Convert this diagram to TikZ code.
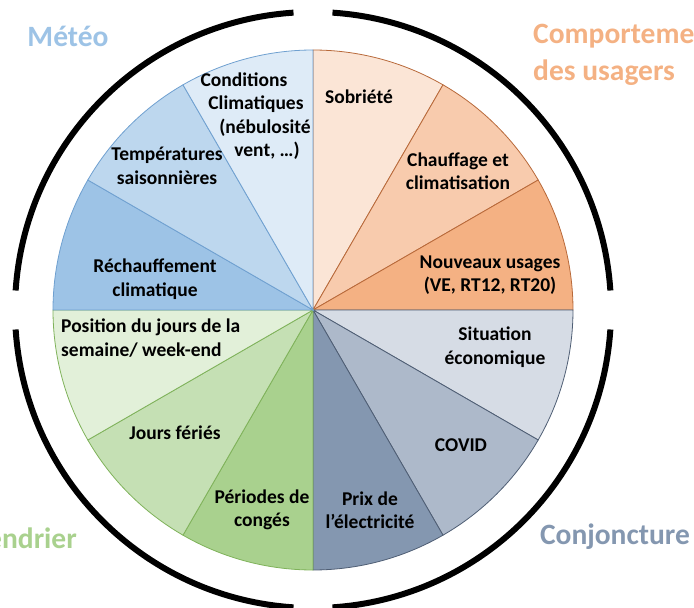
\documentclass[tikz,border=0pt]{standalone}
\usepackage{fontspec}
\setmainfont{Carlito}
\usetikzlibrary{positioning}
% slice colours
\definecolor{meteoA}{HTML}{DEEBF7}
\definecolor{meteoB}{HTML}{BDD7EE}
\definecolor{meteoC}{HTML}{9DC3E6}
\definecolor{meteoL}{HTML}{6FA0D0}
\definecolor{usageA}{HTML}{FBE5D6}
\definecolor{usageB}{HTML}{F8CBAD}
\definecolor{usageC}{HTML}{F4B183}
\definecolor{usageL}{HTML}{B8693A}
\definecolor{conjA}{HTML}{D6DCE5}
\definecolor{conjB}{HTML}{ADB9CA}
\definecolor{conjC}{HTML}{8497B0}
\definecolor{conjL}{HTML}{4F5E74}
\definecolor{calA}{HTML}{E2F0D9}
\definecolor{calB}{HTML}{C5E0B4}
\definecolor{calC}{HTML}{A9D18E}
\definecolor{calL}{HTML}{7FB25A}
\tikzstyle{slice} = [line width=0.8pt]
\tikzstyle{ring} = [line width=6pt]
\tikzstyle{item} = [font=\bfseries\fontsize{19.5}{23.5}\selectfont,align=center,inner sep=0pt]
\tikzstyle{group} = [font=\bfseries\fontsize{29.5}{37}\selectfont,align=left,inner sep=0pt]

\begin{document}
\begin{tikzpicture}[x=1pt,y=1pt]
        \useasboundingbox (-313,-298) rectangle (381,310);
        % draw slices
        \foreach \a/\fillc/\linec in {60/usageA/usageL,30/usageB/usageL,0/usageC/usageL,
                -30/conjA/conjL,-60/conjB/conjL,-90/conjC/conjL,
                -120/calC/calL,-150/calB/calL,180/calA/calL,
                150/meteoC/meteoL,120/meteoB/meteoL,90/meteoA/meteoL} {
        	\draw[slice,fill=\fillc,draw=\linec] (0,0) -- (\a:260) arc (\a:\a+30:260) -- cycle;
        }
        % draw outer ring
        \foreach \a in {0,90,180,270} {
        	\draw[ring] (\a+3.75:298) arc (\a+3.75:\a+86.25:298);
        }
        % draw slice labels
        \node[item] (sobriete) at (46,213) {Sobriété};
        \node[item] (chauffage) at (145,139) {Chauffage et\\climatisation};
        \node[item] (usages) at (177,35) {Nouveaux usages\\(VE, RT12, RT20)};
        \node[item] (situation) at (182,-37) {Situation\\économique};
        \node[item] (covid) at (148,-135) {COVID};
        \node[item] (prix) at (57,-200) {Prix de\\l’électricité};
        \node[item] (conges) at (-51,-200) {Périodes de\\congés};
        \node[item] (feries) at (-138,-123) {Jours fériés};
        \node[item,anchor=west,align=left] (semaine) at (-252,-28) {Position du jours de la\\semaine/ week-end};
        \node[item] (rechauffement) at (-158,31) {Réchauffement\\climatique};
        \node[item] (temperatures) at (-146,144) {Températures\\saisonnières};
        \node[item] (conditions) at (-57,194) {Conditions\hspace*{24pt}\\Climatiques\hspace*{16pt}\\\hspace*{18pt}(nébulosité\\\hspace*{22pt}vent, …)};
        % draw group labels
        \node[group,text=meteoC] (meteo) at (-245,274) {Météo};
        \node[group,text=usageC,anchor=west] (comportement) at (220,255.5) {Comportement\\des usagers};
        \node[group,text=calC,anchor=east] (calendrier) at (-236,-228) {Calendrier};
        \node[group,text=conjC] (conjoncture) at (302,-227) {Conjoncture};
\end{tikzpicture}
\end{document}
